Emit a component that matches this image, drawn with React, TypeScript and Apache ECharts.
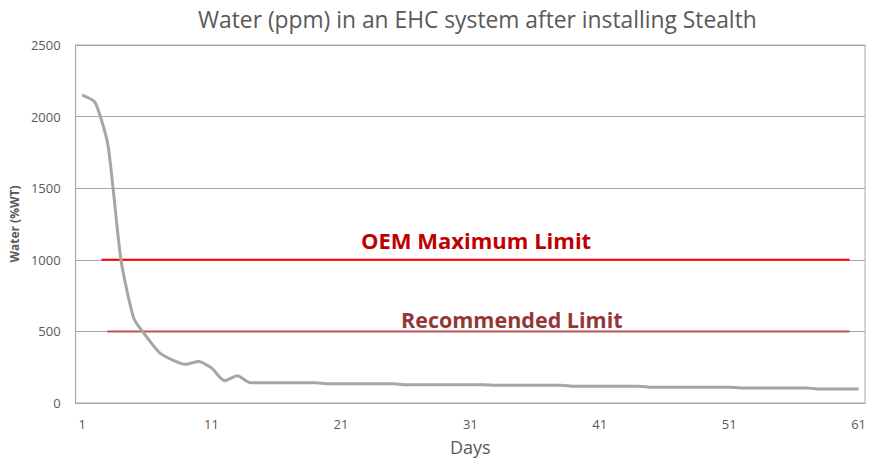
import React, { useEffect, useRef } from "react";
import * as echarts from "echarts";

const days: string[] = Array.from({ length: 61 }, (_, i) => String(i + 1));
const water: number[] = [
  2150, 2100, 1800, 1000, 590, 460, 350, 300, 270, 290,
  245, 155, 190, 142, 142, 142, 142, 142, 142, 135,
  135, 135, 135, 135, 135, 128, 128, 128, 128, 128,
  128, 128, 124, 124, 124, 124, 124, 124, 117, 117,
  117, 117, 117, 117, 110, 110, 110, 110, 110, 110,
  110, 105, 105, 105, 105, 105, 105, 98, 98, 98, 98,
];
const oemLimit: number[][] = [[2.5, 1000], [60.3, 1000]];
const recLimit: number[][] = [[2.95, 500], [60.3, 500]];

const FONT = "'Open Sans', 'Liberation Sans', sans-serif";

export default function App() {
  const ref = useRef<HTMLDivElement>(null);
  useEffect(() => {
    if (!ref.current) return;
    document.documentElement.style.overflow = "hidden";
    document.body.style.margin = "0";
    document.body.style.overflow = "hidden";
    const chart = echarts.init(ref.current, undefined, { renderer: "svg" });
    chart.setOption({
      animation: false,
      backgroundColor: "#ffffff",
      title: {
        text: "Water (ppm) in an EHC system after installing Stealth",
        left: 193,
        top: 3,
        textStyle: { fontFamily: FONT, fontSize: 22.8, fontWeight: "normal", color: "#595959" },
      },
      grid: {
        left: 75, right: 1, top: 45, bottom: 52,
        show: true, borderColor: "#a6a6a6", borderWidth: 1,
      },
      xAxis: [
        {
          type: "category",
          data: days,
          boundaryGap: true,
          name: "Days",
          nameLocation: "middle",
          nameGap: 35,
          nameTextStyle: { fontFamily: FONT, fontSize: 18, color: "#595959" },
          axisLine: { lineStyle: { color: "#a6a6a6" } },
          axisTick: { show: false },
          axisLabel: { interval: 9, fontFamily: FONT, fontSize: 13, color: "#595959", margin: 14 },
        },
        {
          type: "value",
          min: 0.5,
          max: 61.5,
          show: false,
        },
      ],
      yAxis: {
        type: "value",
        min: 0,
        max: 2500,
        interval: 500,
        name: "Water (%WT)",
        nameLocation: "middle",
        nameGap: 54,
        nameTextStyle: { fontFamily: FONT, fontSize: 12, fontWeight: "bold", color: "#595959" },
        axisLine: { show: true, lineStyle: { color: "#a6a6a6" } },
        axisTick: { show: false },
        splitLine: { lineStyle: { color: "#a6a6a6" } },
        axisLabel: {
          fontFamily: FONT, fontSize: 13, color: "#595959", margin: 15,
          formatter: (v: number) => String(v),
        },
      },
      series: [
        {
          type: "line",
          data: water,
          xAxisIndex: 0,
          smooth: 0.2,
          showSymbol: false,
          lineStyle: { color: "#a6a6a6", width: 3 },
          z: 3,
        },
        {
          type: "line",
          data: oemLimit,
          xAxisIndex: 1,
          showSymbol: false,
          lineStyle: { color: "#ff0000", width: 2 },
          z: 2,
        },
        {
          type: "line",
          data: recLimit,
          xAxisIndex: 1,
          showSymbol: false,
          lineStyle: { color: "#c0504d", width: 2 },
          z: 2,
        },
      ],
      graphic: [
        {
          type: "text",
          left: 361,
          top: 229,
          style: { text: "OEM Maximum Limit", fontFamily: FONT, fontSize: 22, fontWeight: "bold", fill: "#c00000" },
        },
        {
          type: "text",
          left: 401,
          top: 308,
          style: { text: "Recommended Limit", fontFamily: FONT, fontSize: 21.5, fontWeight: "bold", fill: "#943634" },
        },
      ],
    });
    const onResize = () => chart.resize();
    window.addEventListener("resize", onResize);
    return () => {
      window.removeEventListener("resize", onResize);
      chart.dispose();
    };
  }, []);
  return (
    <div
      ref={ref}
      style={{ position: "fixed", left: 0, top: 0, width: 869, height: 461 }}
    />
  );
}
